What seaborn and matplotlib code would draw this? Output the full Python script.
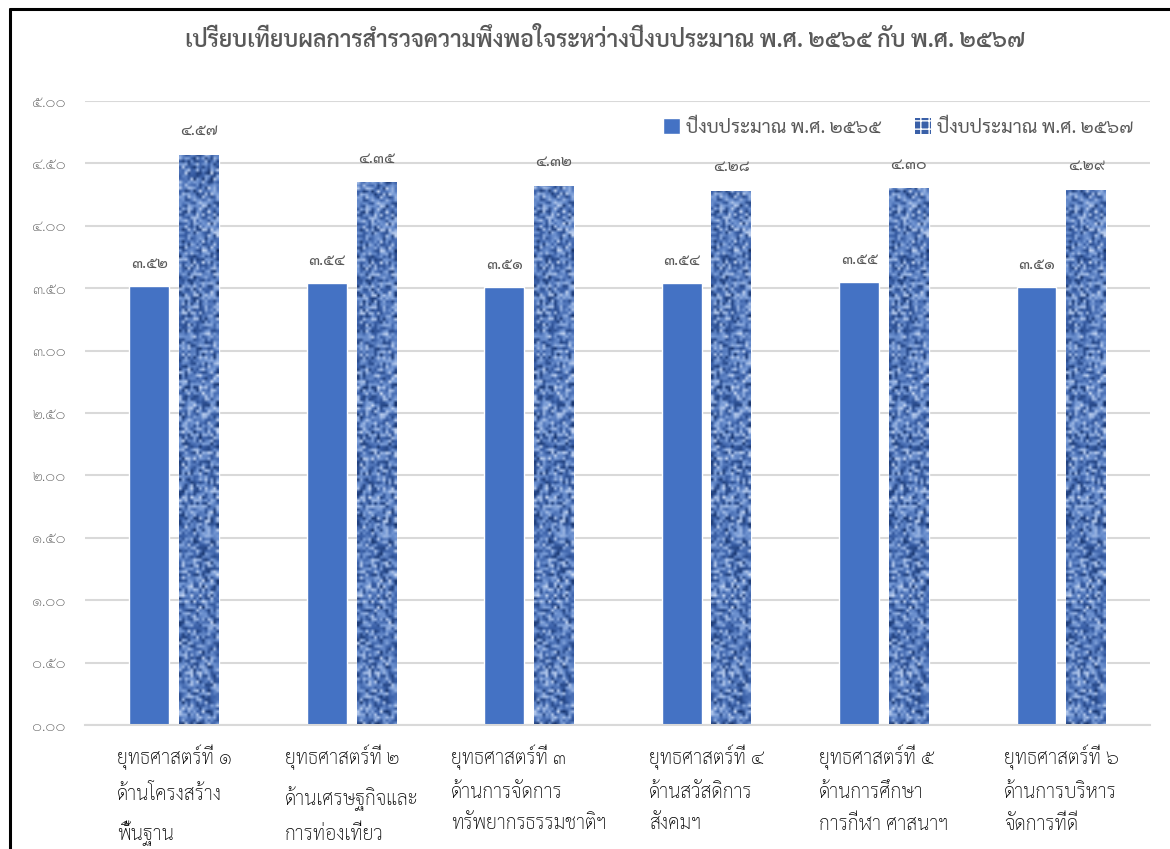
import numpy as np
import pandas as pd
import matplotlib
matplotlib.use('Agg')
import matplotlib.pyplot as plt
from matplotlib.lines import Line2D
from matplotlib.patches import Patch
import seaborn as sns

categories = ['ยุทธศาสตร์ที่ ๑\nด้านโครงสร้าง\nพื้นฐาน',
              'ยุทธศาสตร์ที่ ๒\nด้านเศรษฐกิจและ\nการท่องเที่ยว',
              'ยุทธศาสตร์ที่ ๓\nด้านการจัดการ\nทรัพยากรธรรมชาติฯ',
              'ยุทธศาสตร์ที่ ๔\nด้านสวัสดิการ\nสังคมฯ',
              'ยุทธศาสตร์ที่ ๕\nด้านการศึกษา\nการกีฬา ศาสนาฯ',
              'ยุทธศาสตร์ที่ ๖\nด้านการบริหาร\nจัดการที่ดี']
series_names = ['ปีงบประมาณ พ.ศ. ๒๕๖๕', 'ปีงบประมาณ พ.ศ. ๒๕๖๗']
values_2565 = [3.52, 3.54, 3.51, 3.54, 3.55, 3.51]
values_2567 = [4.57, 4.35, 4.32, 4.28, 4.30, 4.29]
yticks = [0, 0.5, 1.0, 1.5, 2.0, 2.5, 3.0, 3.5, 4.0, 4.5, 5.0]

thai_digits = str.maketrans('0123456789', '๐๑๒๓๔๕๖๗๘๙')
def thai(v):
    return ('%.2f' % v).translate(thai_digits)

df = pd.DataFrame({
    'cat': categories * 2,
    'year': [series_names[0]] * 6 + [series_names[1]] * 6,
    'score': values_2565 + values_2567,
})

sns.set_style('white')
plt.rcParams['font.family'] = ['Sarabun', 'DejaVu Sans']
plt.rcParams['hatch.color'] = '#b5cbee'

fig = plt.figure(figsize=(11.7, 8.49), dpi=100)
ax = fig.add_axes([0.073, 0.146, 0.91, 0.735])

sns.barplot(data=df, x='cat', y='score', hue='year', order=categories,
            hue_order=series_names, palette=['#4472C4', '#4a6fb5'],
            width=0.56, gap=0.2, saturation=1, legend=False, ax=ax)

# denim-like texture for the 2567 bars (deterministic hash noise + weave)
yy, xx = np.mgrid[0:210, 0:14].astype(float)
h = np.sin(xx * 12.9898 + yy * 78.233) * 43758.5453
noise = h - np.floor(h)
weave = 0.5 + 0.25 * np.sin(xx * 2.1) * np.cos(yy * 1.7)
tex = 0.65 * noise + 0.35 * weave
tex_cmap = matplotlib.colors.LinearSegmentedColormap.from_list(
    'tex', ['#132f66', '#3a60a8', '#7397d4', '#d0def5'])

container_a, container_b = ax.containers[0], ax.containers[1]
for bar in container_b:
    x0 = bar.get_x()
    im = ax.imshow(tex, cmap=tex_cmap, aspect='auto', interpolation='bilinear',
                   extent=[x0, x0 + bar.get_width(), 0, 5], zorder=bar.get_zorder() + 0.1)
    im.set_clip_path(bar)

ax.bar_label(container_a, labels=[thai(v) for v in values_2565], padding=11,
             fontsize=11.5, color='#595959')
ax.bar_label(container_b, labels=[thai(v) for v in values_2567], padding=12,
             fontsize=11.5, color='#595959')

ax.set_xlim(-0.5, 5.5)
ax.set_ylim(0, 5)
ax.set_yticks(yticks)
ax.set_yticklabels([thai(v) for v in yticks], fontsize=11, color='#595959',
                   fontweight='light')
ax.yaxis.grid(True, color='#d9d9d9', linewidth=1.5)
ax.set_axisbelow(True)
for s in ['top', 'right', 'left']:
    ax.spines[s].set_visible(False)
ax.spines['bottom'].set_color('#d9d9d9')
ax.spines['bottom'].set_linewidth(1.5)
ax.tick_params(axis='y', length=0, pad=14)
ax.tick_params(axis='x', length=0, pad=14)
ax.set_xticks(range(len(categories)))
ax.set_xticklabels(categories, fontsize=14, color='#000000', multialignment='left',
                   linespacing=1.85, fontweight='light')
ax.set_xlabel('')
ax.set_ylabel('')

fig.suptitle('เปรียบเทียบผลการสำรวจความพึงพอใจระหว่างปีงบประมาณ พ.ศ. ๒๕๖๕ กับ พ.ศ. ๒๕๖๗',
             x=0.517, y=0.968, fontsize=16.5, fontweight='semibold', color='#595959')

handles = [Patch(facecolor='#4472C4'),
           Patch(facecolor='#3a60a8', hatch='++', linewidth=0)]
ax.legend(handles, series_names, loc='upper right', bbox_to_anchor=(1.0, 1.0),
          ncol=2, frameon=False, handlelength=0.9, handleheight=0.9,
          handletextpad=0.3, columnspacing=1.8, labelcolor='#595959',
          prop={'family': ['Sarabun', 'DejaVu Sans'], 'size': 13.5})

fig.add_artist(Line2D([0.0085, 0.0085], [0, 0.989], color='black', linewidth=2.2,
                      transform=fig.transFigure))
fig.add_artist(Line2D([0.0085, 1.0], [0.989, 0.989], color='black', linewidth=2.2,
                      transform=fig.transFigure))

fig.savefig('out.png')
